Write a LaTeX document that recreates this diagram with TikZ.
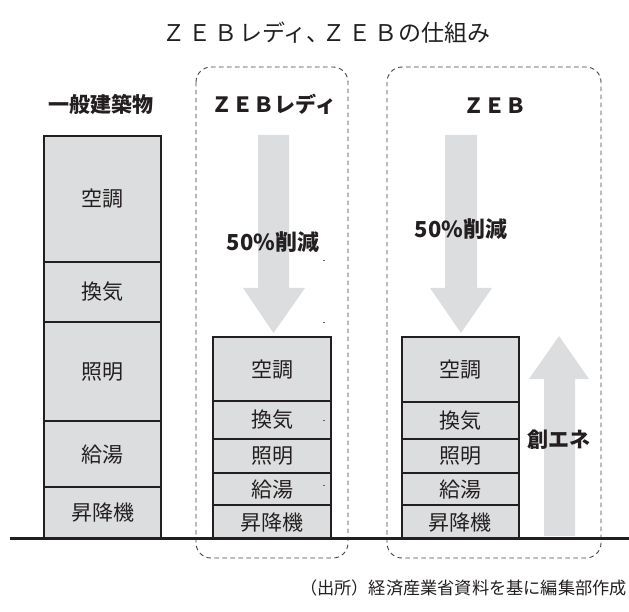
\documentclass[tikz,border=0pt]{standalone}
\usepackage{fontspec}
\setmainfont{Noto Sans CJK JP}
\definecolor{ink}{HTML}{231F20}
\definecolor{segfill}{HTML}{DCDDDE}
\definecolor{arrowfill}{HTML}{DCDDDF}
\newcommand{\wz}[1]{\makebox[26pt][c]{#1}}
\begin{document}
\begin{tikzpicture}[x=1pt,y=-1pt,
  seg/.style={draw=ink,fill=segfill,line width=2.4pt,anchor=north west,inner sep=0pt,
    text=ink,font=\fontsize{21}{24}\selectfont},
  frame/.style={draw=ink!85,line width=0.9pt,dash pattern=on 4.5pt off 3.5pt,rounded corners=15pt},
  bigarrow/.style={fill=arrowfill,draw=none},
  head/.style={text=ink,font=\bfseries\fontsize{21}{24}\selectfont},
  tick/.style={draw=ink!70,line width=0.6pt}]
\useasboundingbox (0,0) rectangle (629,612);
% title
\node[text=ink,font=\fontsize{23}{26}\selectfont,inner sep=0pt] (title) at (326,33)
  {\wz{Ｚ}\wz{Ｅ}\wz{Ｂ}レディ\makebox[14pt][l]{、}\wz{Ｚ}\wz{Ｅ}\wz{Ｂ}の仕組み};
% dashed frames
\draw[frame] (196,67) rectangle (348,558);
\draw[frame] (387,67) rectangle (601,558);
% headings
\node[head] (h1) at (101,104) {一般建築物};
\node[head] (h2) at (274,104) {ＺＥＢレディ};
\node[head] (h3) at (495,106) {ＺＥＢ};
% down arrows
\fill[bigarrow] (258,135) -- (289,135) -- (289,288) -- (305,288) -- (273.5,333) -- (243,288) -- (258,288) -- cycle;
\fill[bigarrow] (445,135) -- (477,135) -- (477,288) -- (492,288) -- (461,333) -- (430,288) -- (445,288) -- cycle;
% up arrow
\fill[bigarrow] (544,536) -- (575,536) -- (575,379) -- (589,379) -- (559,336) -- (529,379) -- (544,379) -- cycle;
\node[head,font=\bfseries\fontsize{22}{24}\selectfont] (cut1) at (273,242) {50\%削減};
\node[head,font=\bfseries\fontsize{22}{24}\selectfont] (cut2) at (461,229) {50\%削減};
\node[head] (sou) at (559,440) {創エネ};
% general building column
\node[seg,minimum width=117pt,minimum height=125.7pt] (a1) at (43,135) {空調};
\node[seg,minimum width=117pt,minimum height=60.3pt] (a2) at (43,260.7) {換気};
\node[seg,minimum width=117pt,minimum height=99pt] (a3) at (43,321) {照明};
\node[seg,minimum width=117pt,minimum height=65.7pt] (a4) at (43,420) {給湯};
\node[seg,minimum width=117pt,minimum height=51.3pt] (a5) at (43,485.7) {昇降機};
% ZEB ready column
\node[seg,minimum width=118.3pt,minimum height=64pt] (b1) at (211.7,336) {空調};
\node[seg,minimum width=118.3pt,minimum height=37.7pt] (b2) at (211.7,400) {換気};
\node[seg,minimum width=118.3pt,minimum height=34pt] (b3) at (211.7,437.7) {照明};
\node[seg,minimum width=118.3pt,minimum height=32.3pt] (b4) at (211.7,471.7) {給湯};
\node[seg,minimum width=118.3pt,minimum height=34pt] (b5) at (211.7,504) {昇降機};
% ZEB column
\node[seg,minimum width=117pt,minimum height=64.7pt] (c1) at (400.7,336) {空調};
\node[seg,minimum width=117pt,minimum height=37.3pt] (c2) at (400.7,400.7) {換気};
\node[seg,minimum width=117pt,minimum height=34pt] (c3) at (400.7,438) {照明};
\node[seg,minimum width=117pt,minimum height=32pt] (c4) at (400.7,472) {給湯};
\node[seg,minimum width=117pt,minimum height=34pt] (c5) at (400.7,504) {昇降機};
% small ticks
\draw[tick] (322.5,260.5) -- (324.5,260.5);
\draw[tick] (322.5,322) -- (324.5,322);
\draw[tick] (322.5,420) -- (324.5,420);
\draw[tick] (322.5,485) -- (324.5,485);
% ground line
\coordinate (g1) at (10,538.5);
\coordinate (g2) at (629,538.5);
\draw[ink,line width=3pt] (g1) -- (g2);
% source
\node[anchor=east,text=ink,font=\fontsize{17.2}{20}\selectfont,inner sep=0pt] (src) at (627,588) {（出所）経済産業省資料を基に編集部作成};
\end{tikzpicture}
\end{document}
